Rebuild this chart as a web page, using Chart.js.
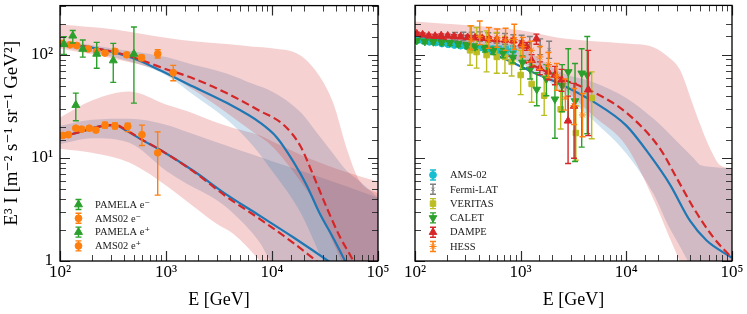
<!DOCTYPE html>
<html><head><meta charset="utf-8">
<script src="https://cdn.jsdelivr.net/npm/chart.js@4.4.1/dist/chart.umd.min.js"></script>
<style>
html,body{margin:0;padding:0;background:#fff;}
#wrap{position:relative;width:747px;height:314px;overflow:hidden;background:#fff;}
canvas{position:absolute;top:0;}
#c1{left:0;} #c2{left:400px;}
</style></head><body>
<div id="wrap"><canvas id="c1" width="400" height="314"></canvas><canvas id="c2" width="347" height="314"></canvas></div>
<script>
// ================= LEFT PANEL DATA =================
const pamelaElE  = [109, 132, 164, 222, 318, 498];
const pamelaElI  = [127, 153, 114, 102, 88, 102];
const pamelaElLo = [101, 130, 95, 74, 54, 34];
const pamelaElHi = [150, 172, 139, 132, 129, 186];

const amsElE  = [104, 124, 144, 185, 222, 266, 330, 426, 588, 835, 1171];
const amsElI  = [129, 125, 123, 114, 108, 104, 108, 100, 93.6, 102, 67];
const amsElLo = [125, 121, 119, 110, 104, 100, 103, 95, 88, 93, 56];
const amsElHi = [133, 129, 127, 118, 112, 108, 113, 105, 99, 112, 79];

const pamelaPoE  = [141];
const pamelaPoI  = [32.5];
const pamelaPoLo = [22.9];
const pamelaPoHi = [42.5];

const amsPoE  = [106, 120, 141, 160, 189, 218, 266, 330, 435, 593, 835];
const amsPoI  = [16.5, 16.8, 19.4, 19, 19.4, 18.6, 20.8, 20.4, 20.2, 16.8, 11.2];
const amsPoLo = [15.8, 16.1, 18.6, 18.2, 18.6, 17.8, 19.5, 19.1, 18.0, 13.2, 4.35];
const amsPoHi = [17.2, 17.5, 20.2, 19.8, 20.2, 19.4, 22.2, 21.8, 21.7, 20.8, 17.9];

// model curves (electrons)
const elBlueE = [100, 192, 316, 532, 877, 1800, 3730, 7700, 11100, 15900, 21100, 28300, 37600, 48900, 65000];
const elBlueI = [129, 118, 106, 89.6, 70.8, 49.2, 34.2, 22, 15.8, 9.2, 5.5, 2.87, 1.69, 1.0, 0.55];
const elRedE  = [100, 192, 316, 532, 877, 1810, 3730, 7700, 12800, 18400, 24500, 32800, 43900, 58500, 75000];
const elRedI  = [129, 118, 107, 92, 76, 59, 42.5, 28.5, 21, 13.2, 6.8, 3.3, 1.7, 1.0, 0.55];
// model curves (positrons)
const poBlueE = [100, 155, 238, 330, 426, 611, 877, 1810, 3730, 7700, 15850, 33900, 50000];
const poBlueI = [15.8, 17.9, 20.2, 20.8, 18.3, 14.7, 12, 7.5, 4.4, 2.74, 1.7, 1.0, 0.75];
const poRedE  = [100, 155, 238, 330, 426, 611, 877, 1810, 3730, 7700, 15850, 26300, 40000];
const poRedI  = [15.8, 17.9, 20.2, 20.9, 18.5, 14.8, 12, 7.4, 4.2, 2.55, 1.5, 1.0, 0.7];

// uncertainty bands
const elBandE   = [100, 316, 1000, 1810, 3730, 6670, 10000, 18400, 28400, 37800, 50700, 67600, 100000];
const elRedHi   = [197, 177, 146, 135, 127, 120, 116, 99, 61, 34, 12.3, 5.9, 4.5];
const elRedLo   = [115, 92, 66, 45.7, 27.4, 17.7, 13, 6, 3, 1.5, 0.8, 0.5, 0.3];
const elBlueHi  = [138, 115, 95, 80, 66, 52, 44, 28, 16, 11, 7.5, 5.9, 4.1];
const elBlueLo  = [120, 95, 63.5, 41, 23.7, 13, 7.5, 3, 1.15, 0.6, 0.4, 0.3, 0.2];

const poBandE   = [100, 200, 450, 1000, 1570, 3000, 4300, 7700, 10000, 22800, 50000, 100000];
const poRedHi   = [24.6, 36, 44, 33, 28.5, 22, 19.5, 16.5, 14.5, 9.8, 7.3, 5.9];
const poRedLo   = [12.3, 11.2, 9, 5.4, 3.8, 2.3, 1.84, 1.0, 0.7, 0.4, 0.3, 0.2];
const poBlueHi  = [20.5, 23.5, 24, 21, 17.9, 14.2, 12.5, 10.2, 9.3, 7.0, 5.3, 4.1];
const poBlueLo  = [13.6, 15.5, 14, 7.5, 5.6, 3.9, 2.9, 1.5, 0.95, 0.5, 0.3, 0.2];

// ================= RIGHT PANEL DATA =================
const ams02E  = [105, 120, 137, 157, 180, 206, 236, 270, 310, 355, 410, 470, 545, 630, 730, 850];
const ams02I  = [138, 136, 133, 131, 128, 126, 124, 122, 120, 118, 117, 115, 113, 112, 111, 110];
const ams02Lo = [134, 132, 129, 127, 124, 122, 120, 118, 115, 113, 111, 108, 105, 103, 101, 98];
const ams02Hi = [142, 140, 137, 135, 132, 130, 128, 126, 125, 123, 123, 122, 121, 121, 121, 122];

const fermiE  = [239, 287, 344, 412, 494, 593, 711, 852, 1020, 1220, 1530, 1860];
const fermiI  = [151, 151, 150, 150, 147, 145, 142, 137, 134, 129, 120, 112];
const fermiLo = [138, 137, 136, 135, 132, 129, 126, 120, 116, 110, 100, 92];
const fermiHi = [164, 165, 165, 166, 163, 162, 160, 156, 154, 150, 142, 135];

const veritasE  = [332, 383, 476, 594, 710, 821, 1000, 1270, 1670, 2390, 3330, 4700];
const veritasI  = [110, 106, 99, 95, 95, 85, 63.5, 52, 40, 29.5, 17.4, 38];
const veritasLo = [79, 74, 68, 66, 66, 62, 41, 34.6, 25.8, 19, 9.5, 15.3];
const veritasHi = [190, 183, 170, 164, 150, 140, 110, 80, 62, 45, 31.8, 68];

const caletE  = [104, 124, 149, 179, 214, 257, 309, 370, 459, 549, 680, 843, 1040, 1230, 1420, 1750, 2110, 2470, 2820, 3270, 3780, 4270];
const caletI  = [137, 134, 133, 131, 130, 127, 123, 119, 114, 109, 103, 94, 84, 72, 46, 58, 37, 50, 68, 35.5, 66, 63.5];
const caletLo = [131, 128, 127, 125, 123, 120, 116, 112, 106, 100, 93, 83, 72, 58, 32, 40, 15.5, 28, 22.9, 9.2, 12.7, 17.1];
const caletHi = [143, 140, 139, 137, 137, 134, 131, 127, 123, 118, 114, 106, 97, 88, 67, 80, 66, 80, 114, 82, 114, 150];

const dampeE  = [104, 118, 135, 155, 177, 204, 234, 270, 315, 370, 433, 505, 593, 711, 852, 1020, 1140, 1270, 1410, 1520, 1830, 2110, 2440, 2810, 3200, 4360];
const dampeI  = [159, 156, 152, 151, 153, 152, 150, 149, 147, 146, 144, 142, 140, 139, 137, 127, 120, 88, 142, 74, 68, 63.5, 57, 22.8, 31.7, 45.7];
const dampeLo = [153, 150, 146, 145, 147, 146, 144, 143, 141, 140, 138, 136, 134, 132, 130, 119, 110, 76, 126, 64, 57, 51, 44, 8.8, 9.9, 16.4];
const dampeHi = [165, 162, 158, 157, 159, 158, 156, 155, 153, 152, 150, 148, 146, 146, 144, 136, 131, 100, 158, 85, 80, 77, 72, 39.6, 52.6, 110];

const hessE  = [340, 410, 500, 600, 720, 870, 1050, 1260, 1520, 1830, 2200, 2650, 3200, 3850];
const hessI  = [138, 150, 140, 145, 138, 140, 120, 110, 95, 80, 62, 38, 32, 26];
const hessLo = [112, 125, 115, 118, 110, 112, 95, 85, 72, 60, 45, 29, 21, 16];
const hessHi = [190, 212, 183, 177, 180, 197, 147, 135, 120, 105, 82, 58, 47, 42];

const totBlueE = [100, 200, 427, 800, 1365, 2360, 4870, 10000, 16700, 25900, 40000, 57500, 99000];
const totBlueI = [147, 136, 112, 86, 66, 52, 35, 20.5, 10.6, 5.5, 2.46, 1.58, 1.08];
const totRedE  = [100, 200, 427, 800, 1365, 2360, 4870, 10000, 20800, 29900, 43000, 66400, 99000];
const totRedI  = [152, 140, 118, 96, 77, 59, 43.5, 27.4, 12.3, 6.4, 3.3, 1.7, 1.08];

const totBandE  = [100, 1000, 2360, 4870, 10000, 18000, 25000, 32000, 43000, 50000, 62000, 77000, 100000];
const totRedHi  = [210, 172, 145, 135, 128, 118, 95, 72, 32, 21, 12.3, 8.5, 7.9];
const totRedLo  = [143, 86, 50, 25.5, 13, 4.0, 1.8, 1.0, 0.5, 0.4, 0.3, 0.25, 0.2];
const totBlueHi = [168, 118, 68, 54, 38, 24, 17.5, 13.5, 10, 8.5, 8.2, 8.0, 7.9];
const totBlueLo = [140, 82, 45, 23, 11, 4.5, 2.2, 1.4, 0.8, 0.6, 0.45, 0.35, 0.25];

// axis ranges and tick labels
const xRange = [100, 100000];
const yRange = [1, 300];
const xTickLabels = {100: '10²', 1000: '10³', 10000: '10⁴', 100000: '10⁵'};
const yTickLabels = {1: '1', 10: '10¹', 100: '10²'};
const xTitle = 'E [GeV]';
const yTitle = 'E³ I [m⁻² s⁻¹ sr⁻¹ GeV²]';

// ================= STYLE =================
const FONT = "'Liberation Serif', 'DejaVu Serif', serif";
const C = {blue:'#1f77b4', red:'#d62728', green:'#2ca02c', orange:'#ff7f0e', cyan:'#17becf', gray:'#7f7f7f', olive:'#bcbd22'};
const BAND_RED = 'rgba(214,39,40,0.21)';
const BAND_BLUE = 'rgba(31,119,180,0.21)';

function pts(E, I) { return E.map((e, i) => ({x: e, y: I[i]})); }
function band(E, hi, lo, color) {
  return [
    {data: pts(E, hi), fill: '+1', backgroundColor: color, borderColor: 'rgba(0,0,0,0)', borderWidth: 0, pointRadius: 0, cubicInterpolationMode: 'monotone'},
    {data: pts(E, lo), fill: false, backgroundColor: color, borderColor: 'rgba(0,0,0,0)', borderWidth: 0, pointRadius: 0, cubicInterpolationMode: 'monotone'}
  ];
}
function curve(E, I, color, dash) {
  return {data: pts(E, I), borderColor: color, borderWidth: 2.2, borderDash: dash || [], pointRadius: 0, fill: false, cubicInterpolationMode: 'monotone', borderCapStyle: 'butt'};
}
function points(label, E, I, lo, hi, color, style, r, rot) {
  return {label, data: pts(E, I), errLo: lo, errHi: hi, showLine: false, fill: false,
    borderColor: color, backgroundColor: color, pointBackgroundColor: color, pointBorderColor: color,
    pointBorderWidth: 1, pointStyle: style, pointRadius: r, pointRotation: rot || 0};
}

// ================= PLUGINS =================
const errorBars = {
  id: 'errorBars',
  beforeDatasetDraw(chart, args) {
    const ds = chart.data.datasets[args.index];
    if (!ds.errLo) return;
    const {ctx, chartArea: a, scales: {x, y}} = chart;
    ctx.save();
    ctx.beginPath(); ctx.rect(a.left, a.top, a.right - a.left, a.bottom - a.top); ctx.clip();
    ctx.setLineDash([]);
    ctx.strokeStyle = ds.borderColor; ctx.lineWidth = 1.4;
    ds.data.forEach((p, i) => {
      const px = x.getPixelForValue(p.x);
      const y1 = y.getPixelForValue(ds.errLo[i]), y2 = y.getPixelForValue(ds.errHi[i]);
      ctx.beginPath();
      ctx.moveTo(px, y1); ctx.lineTo(px, y2);
      ctx.moveTo(px - 3, y1); ctx.lineTo(px + 3, y1);
      ctx.moveTo(px - 3, y2); ctx.lineTo(px + 3, y2);
      ctx.stroke();
    });
    ctx.restore();
  }
};

const insideLegend = {
  id: 'insideLegend',
  afterDatasetsDraw(chart, args, opts) {
    if (!opts || !opts.items) return;
    const {ctx, chartArea: a} = chart;
    ctx.save();
    ctx.setLineDash([]);
    opts.items.forEach((idx, k) => {
      const ds = chart.data.datasets[idx];
      const cy = a.bottom + opts.y0 + k * opts.dy;
      const mx = a.left + opts.mx;
      ctx.strokeStyle = ds.borderColor; ctx.fillStyle = ds.backgroundColor; ctx.lineWidth = 1.4;
      ctx.beginPath();
      ctx.moveTo(mx, cy - 5); ctx.lineTo(mx, cy + 5);
      ctx.moveTo(mx - 3, cy - 5); ctx.lineTo(mx + 3, cy - 5);
      ctx.moveTo(mx - 3, cy + 5); ctx.lineTo(mx + 3, cy + 5);
      ctx.stroke();
      if (Chart.helpers && Chart.helpers.drawPoint) {
        ctx.lineWidth = 1;
        Chart.helpers.drawPoint(ctx, {pointStyle: ds.pointStyle, rotation: ds.pointRotation || 0, radius: ds.pointRadius, borderWidth: 1}, mx, cy);
      }
      ctx.fillStyle = '#1a1a1a';
      ctx.font = '10.5px ' + FONT;
      ctx.textAlign = 'left'; ctx.textBaseline = 'middle';
      ctx.fillText(ds.label, a.left + opts.tx, cy + 0.5);
    });
    ctx.restore();
  }
};

const frameTicks = {
  id: 'frameTicks',
  afterDraw(chart) {
    const {ctx, chartArea: a, scales: {x, y}} = chart;
    const isMaj = v => Math.abs(Math.log10(v) - Math.round(Math.log10(v))) < 1e-6;
    ctx.save();
    ctx.setLineDash([]);
    ctx.strokeStyle = '#2a2a2a';
    [true, false].forEach(major => {
      ctx.lineWidth = major ? 1.2 : 0.9;
      ctx.beginPath();
      x.ticks.forEach(t => {
        if (isMaj(t.value) !== major) return;
        const px = Math.round(x.getPixelForValue(t.value)) + 0.5;
        if (px < a.left - 1 || px > a.right + 1) return;
        const L = major ? 10 : 6;
        ctx.moveTo(px, a.bottom); ctx.lineTo(px, a.bottom - L);
        ctx.moveTo(px, a.top); ctx.lineTo(px, a.top + L);
      });
      y.ticks.forEach(t => {
        if (isMaj(t.value) !== major) return;
        const py = Math.round(y.getPixelForValue(t.value)) + 0.5;
        if (py < a.top - 1 || py > a.bottom + 1) return;
        const L = major ? 10 : 6;
        ctx.moveTo(a.left, py); ctx.lineTo(a.left + L, py);
        ctx.moveTo(a.right, py); ctx.lineTo(a.right - L, py);
      });
      ctx.stroke();
    });
    ctx.strokeStyle = '#000'; ctx.lineWidth = 1.3;
    ctx.strokeRect(a.left, a.top, a.right - a.left, a.bottom - a.top);
    ctx.restore();
  }
};

function xScale() {
  return {
    type: 'logarithmic', min: xRange[0], max: xRange[1],
    grid: {display: false, drawTicks: false}, border: {display: false},
    ticks: {autoSkip: false, maxRotation: 0, minRotation: 0, padding: 1, color: '#000',
      font: {family: FONT, size: 17}, callback: v => xTickLabels[v] || ''},
    title: {display: true, text: xTitle, color: '#000', font: {family: FONT, size: 18}, padding: {top: 0, bottom: 3}},
    afterFit: s => { s.height = 53; s.paddingLeft = 0; s.paddingRight = 0; }
  };
}
function yScale(withLabels) {
  return {
    type: 'logarithmic', min: yRange[0], max: yRange[1],
    grid: {display: false, drawTicks: false}, border: {display: false},
    ticks: {display: withLabels, autoSkip: false, padding: 7, color: '#000',
      font: {family: FONT, size: 17}, callback: v => yTickLabels[v] || ''},
    title: {display: withLabels, text: yTitle, color: '#000', font: {family: FONT, size: 19}, padding: {top: 1, bottom: 0}},
    afterFit: s => { s.width = withLabels ? 60 : 15; s.paddingTop = 0; s.paddingBottom = 0; }
  };
}
function baseOptions(padRight, legendOpts, withLabels) {
  return {
    responsive: false, animation: false, devicePixelRatio: 1, events: [],
    layout: {padding: {left: 0, right: padRight, top: 1, bottom: 0}},
    plugins: {legend: {display: false}, tooltip: {enabled: false}, insideLegend: legendOpts},
    scales: {x: xScale(), y: yScale(withLabels)}
  };
}

// ================= LEFT CHART =================
const leftDatasets = [
  points('PAMELA e⁻', pamelaElE, pamelaElI, pamelaElLo, pamelaElHi, C.green, 'triangle', 4.6),
  points('AMS02 e⁻', amsElE, amsElI, amsElLo, amsElHi, C.orange, 'circle', 3.4),
  points('PAMELA e⁺', pamelaPoE, pamelaPoI, pamelaPoLo, pamelaPoHi, C.green, 'triangle', 4.6),
  points('AMS02 e⁺', amsPoE, amsPoI, amsPoLo, amsPoHi, C.orange, 'circle', 3.4),
  curve(elRedE, elRedI, C.red, [8, 4]),
  curve(poRedE, poRedI, C.red, [8, 4]),
  curve(elBlueE, elBlueI, C.blue),
  curve(poBlueE, poBlueI, C.blue),
  ...band(elBandE, elRedHi, elRedLo, BAND_RED),
  ...band(elBandE, elBlueHi, elBlueLo, BAND_BLUE),
  ...band(poBandE, poRedHi, poRedLo, BAND_RED),
  ...band(poBandE, poBlueHi, poBlueLo, BAND_BLUE)
];
new Chart(document.getElementById('c1'), {
  type: 'line',
  data: {datasets: leftDatasets},
  options: baseOptions(22, {items: [0, 1, 2, 3], mx: 18.5, tx: 35, y0: -56.5, dy: 13.8}, true),
  plugins: [errorBars, insideLegend, frameTicks]
});

// ================= RIGHT CHART =================
const rightDatasets = [
  points('HESS', hessE, hessI, hessLo, hessHi, C.orange, 'star', 3.6),
  points('DAMPE', dampeE, dampeI, dampeLo, dampeHi, C.red, 'triangle', 4.4),
  points('CALET', caletE, caletI, caletLo, caletHi, C.green, 'triangle', 4.4, 180),
  points('VERITAS', veritasE, veritasI, veritasLo, veritasHi, C.olive, 'rect', 3.9),
  points('Fermi-LAT', fermiE, fermiI, fermiLo, fermiHi, C.gray, 'crossRot', 2.4),
  points('AMS-02', ams02E, ams02I, ams02Lo, ams02Hi, C.cyan, 'circle', 3.4),
  curve(totRedE, totRedI, C.red, [8, 4]),
  curve(totBlueE, totBlueI, C.blue),
  ...band(totBandE, totRedHi, totRedLo, BAND_RED),
  ...band(totBandE, totBlueHi, totBlueLo, BAND_BLUE)
];
new Chart(document.getElementById('c2'), {
  type: 'line',
  data: {datasets: rightDatasets},
  options: baseOptions(15, {items: [5, 4, 3, 2, 1, 0], mx: 18, tx: 35, y0: -86, dy: 14.3}, false),
  plugins: [errorBars, insideLegend, frameTicks]
});
</script>
</body></html>
